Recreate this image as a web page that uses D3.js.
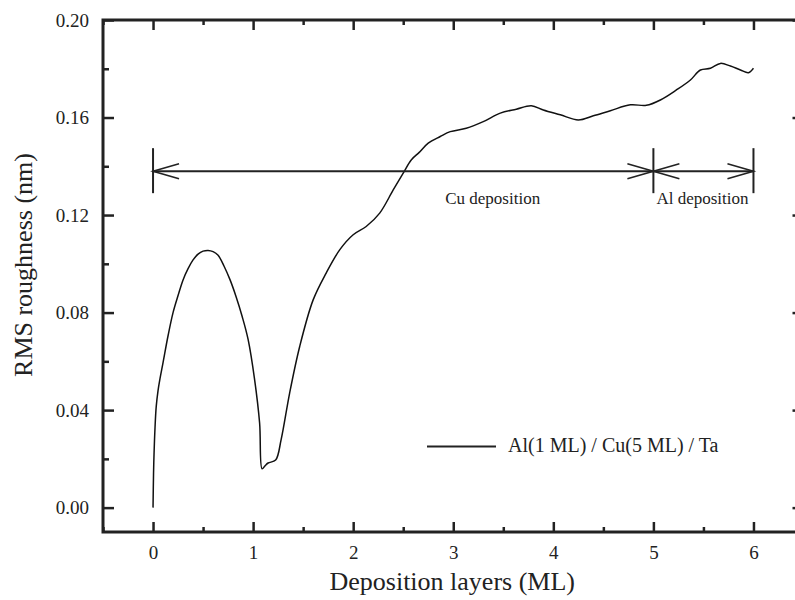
<!DOCTYPE html>
<html>
<head>
<meta charset="utf-8">
<script src="https://cdn.jsdelivr.net/npm/d3@7"></script>
<style>
  body { margin: 0; background: #fff; }
  svg { display: block; font-family: "Liberation Serif", "Times New Roman", serif; }
  .axis path { display: none; }
  .axis line { stroke: #222; stroke-width: 2.5; }
  .axis text { font-size: 19px; fill: #222; font-family: "Liberation Serif", serif; }
</style>
</head>
<body>
<script>
// data
const layers = [0, 0.005, 0.01, 0.02, 0.032, 0.05, 0.07, 0.10, 0.15, 0.20, 0.25, 0.30, 0.35, 0.40, 0.45, 0.50, 0.55, 0.60, 0.65,
  0.71, 0.77, 0.83, 0.89, 0.95, 1.015, 1.065, 1.09, 1.12, 1.15, 1.225, 1.28, 1.365, 1.465, 1.60, 1.73, 1.865, 2.0, 2.13, 2.265, 2.40, 2.50,
  2.58, 2.66, 2.75, 2.87, 2.97, 3.13, 3.30, 3.47, 3.63, 3.78, 3.90, 4.07, 4.25, 4.40, 4.57, 4.77, 4.93, 5.07,
  5.23, 5.37, 5.47, 5.57, 5.67, 5.77, 5.87, 5.95, 6.0];
const roughness = [0.000, 0.014, 0.022, 0.033, 0.0415, 0.048, 0.053, 0.0595, 0.0705, 0.080, 0.087, 0.0934, 0.098, 0.1016, 0.104, 0.1052, 0.1055, 0.1050, 0.1035,
  0.099, 0.0934, 0.0865, 0.0785, 0.069, 0.0525, 0.0347, 0.0159, 0.0172, 0.0183, 0.0195, 0.0279, 0.047, 0.066, 0.0852, 0.0962, 0.1057, 0.1119, 0.1153, 0.1208, 0.1303, 0.1372,
  0.1426, 0.1457, 0.1495, 0.1522, 0.1542, 0.1556, 0.1583, 0.1618, 0.1634, 0.1648, 0.1631, 0.1611, 0.1590, 0.1607, 0.1628, 0.1652, 0.1650, 0.1672,
  0.1713, 0.1754, 0.1795, 0.1802, 0.1822, 0.1811, 0.1795, 0.1784, 0.1802];

const xTicks = [0, 1, 2, 3, 4, 5, 6],
      xMinor = [-0.5, 0.5, 1.5, 2.5, 3.5, 4.5, 5.5, 6.5],
      yTicks = [0, 0.04, 0.08, 0.12, 0.16, 0.20],
      yMinor = [0.02, 0.06, 0.10, 0.14, 0.18];

// annotation: stage boundaries and labels
const stageBounds = [0, 5, 6],
      arrowLevel = 0.138,
      stages = [{text: "Cu deposition", x: 2.92}, {text: "Al deposition", x: 5.03}],
      seriesName = "Al(1 ML) / Cu(5 ML) / Ta";

const svg = d3.select("body").append("svg")
              .attr("width", 795)
              .attr("height", 600),
      pLeft = 103, pTop = 20, pRight = 803.5, pBottom = 532;

const x = d3.scaleLinear().domain([-0.5, 6.5]).range([pLeft, pRight]),
      y = d3.scaleLinear().domain([-0.01, 0.20]).range([pBottom, pTop]);

// ticks, all pointing inward
svg.append("g").attr("class", "axis").attr("transform", "translate(0," + pBottom + ")")
   .call(d3.axisBottom(x).tickValues(xTicks).tickSizeInner(-10).tickSizeOuter(0).tickPadding(14).tickFormat(d3.format("d")));
svg.append("g").attr("class", "axis").attr("transform", "translate(0," + pBottom + ")")
   .call(d3.axisBottom(x).tickValues(xMinor).tickSizeInner(-5).tickSizeOuter(0).tickFormat(""));
svg.append("g").attr("class", "axis").attr("transform", "translate(0," + pTop + ")")
   .call(d3.axisTop(x).tickValues(xTicks).tickSizeInner(-10).tickSizeOuter(0).tickFormat(""));
svg.append("g").attr("class", "axis").attr("transform", "translate(0," + pTop + ")")
   .call(d3.axisTop(x).tickValues(xMinor).tickSizeInner(-5).tickSizeOuter(0).tickFormat(""));

svg.append("g").attr("class", "axis").attr("transform", "translate(" + pLeft + ",0)")
   .call(d3.axisLeft(y).tickValues(yTicks).tickSizeInner(-11).tickSizeOuter(0).tickPadding(14).tickFormat(d3.format(".2f")));
svg.append("g").attr("class", "axis").attr("transform", "translate(" + pLeft + ",0)")
   .call(d3.axisLeft(y).tickValues(yMinor).tickSizeInner(-6).tickSizeOuter(0).tickFormat(""));
svg.append("g").attr("class", "axis").attr("transform", "translate(" + pRight + ",0)")
   .call(d3.axisRight(y).tickValues(yTicks).tickSizeInner(-11).tickSizeOuter(0).tickFormat(""));
svg.append("g").attr("class", "axis").attr("transform", "translate(" + pRight + ",0)")
   .call(d3.axisRight(y).tickValues(yMinor).tickSizeInner(-6).tickSizeOuter(0).tickFormat(""));

// frame
svg.append("rect")
   .attr("x", pLeft).attr("y", pTop)
   .attr("width", pRight - pLeft).attr("height", pBottom - pTop)
   .attr("fill", "none").attr("stroke", "#222").attr("stroke-width", 3);

// the curve
const pts = layers.map((d, i) => ({x: d, y: roughness[i]}));
const line = d3.line()
               .x(d => x(d.x))
               .y(d => y(d.y))
               .curve(d3.curveCatmullRom.alpha(0.5));
svg.append("path")
   .attr("d", line(pts))
   .attr("fill", "none")
   .attr("stroke", "#111")
   .attr("stroke-width", 1.5);

// arrows
const ay = y(arrowLevel),
      ann = svg.append("g").attr("stroke", "#222").attr("fill", "none");
ann.append("line")
   .attr("x1", x(stageBounds[0])).attr("x2", x(stageBounds[2]))
   .attr("y1", ay).attr("y2", ay).attr("stroke-width", 2);
stageBounds.forEach(b => {
  ann.append("line")
     .attr("x1", x(b)).attr("x2", x(b))
     .attr("y1", ay - 23).attr("y2", ay + 22)
     .attr("stroke-width", 2);
});
// heads: [boundary, direction]
const heads = [[stageBounds[0], 1], [stageBounds[1], -1], [stageBounds[1], 1], [stageBounds[2], -1]];
heads.forEach(([b, dir]) => {
  const tx = x(b);
  ann.append("path")
     .attr("d", "M" + (tx + dir * 26) + "," + (ay - 7.5) + "L" + tx + "," + ay + "L" + (tx + dir * 26) + "," + (ay + 7.5))
     .attr("stroke-width", 1.6);
});
stages.forEach(s => {
  svg.append("text")
     .attr("x", x(s.x)).attr("y", ay + 33)
     .attr("font-size", 17).attr("fill", "#222")
     .text(s.text);
});

// legend
svg.append("line")
   .attr("x1", 427).attr("x2", 496)
   .attr("y1", 446.5).attr("y2", 446.5)
   .attr("stroke", "#222").attr("stroke-width", 2.2);
svg.append("text")
   .attr("x", 508).attr("y", 452)
   .attr("font-size", 20).attr("fill", "#222")
   .text(seriesName);

// axis titles
svg.append("text")
   .attr("x", (pLeft + pRight) / 2 - 1).attr("y", 590)
   .attr("text-anchor", "middle")
   .attr("font-size", 26).attr("fill", "#222")
   .text("Deposition layers (ML)");
svg.append("text")
   .attr("transform", "translate(32,265) rotate(-90)")
   .attr("text-anchor", "middle")
   .attr("font-size", 26).attr("fill", "#222")
   .text("RMS roughness (nm)");
</script>
</body>
</html>
